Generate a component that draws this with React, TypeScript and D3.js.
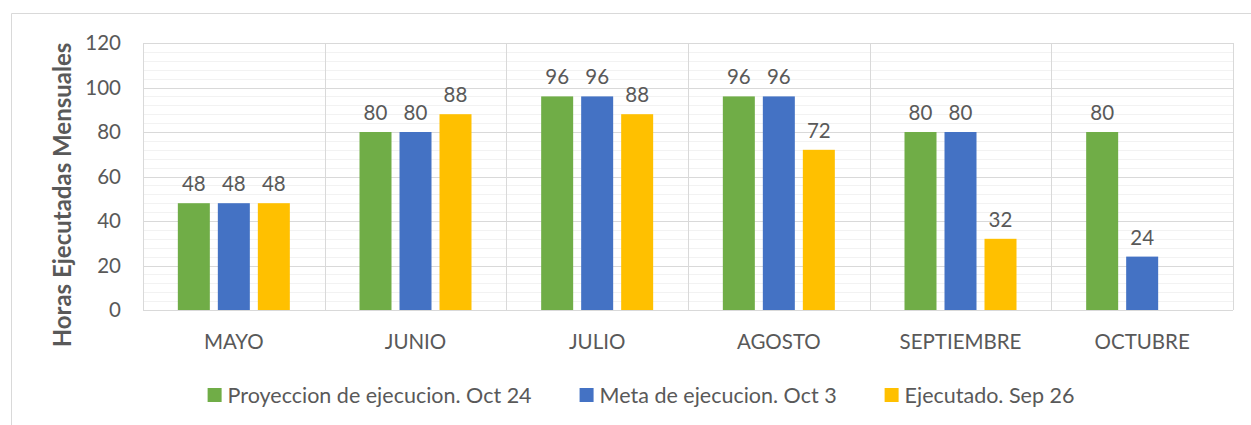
import React, { useEffect, useRef } from "react";
import * as d3 from "d3";

const months = ["MAYO", "JUNIO", "JULIO", "AGOSTO", "SEPTIEMBRE", "OCTUBRE"];
const proyeccion = [48, 80, 96, 96, 80, 80];
const meta = [48, 80, 96, 96, 80, 24];
const ejecutado: (number | null)[] = [48, 88, 88, 72, 32, null];
const seriesNames = ["Proyeccion de ejecucion. Oct 24", "Meta de ejecucion. Oct 3", "Ejecutado. Sep 26"];
const seriesColors = ["#70ad47", "#4472c4", "#ffc000"];
const yTicks = [0, 20, 40, 60, 80, 100, 120];

const FONT = "Lato, 'Open Sans', sans-serif";
const TEXT = "#595959";

export default function App() {
  const ref = useRef<SVGSVGElement>(null);

  useEffect(() => {
    const svg = d3.select(ref.current);
    svg.selectAll("*").remove();

    const left = 143, right = 1233, top = 43, bottom = 310;

    // outer chart border
    svg.append("path")
      .attr("d", `M11.5,425 L11.5,13.5 L1251,13.5`)
      .attr("fill", "none").attr("stroke", "#d9d9d9").attr("stroke-width", 1);

    const x0 = d3.scaleBand().domain(months).range([left, right]).paddingInner(0).paddingOuter(0);
    const y = d3.scaleLinear().domain([0, 120]).range([bottom, top]);

    const barW = 32, gap = 8;
    const x1 = d3.scaleLinear().domain([0, 2]).range([-(barW + gap), barW + gap]);

    const g = svg.append("g");

    // minor gridlines
    const minor = d3.range(0, 121, 4).filter(v => v % 20 !== 0);
    g.selectAll(".minor").data(minor).join("line").attr("class", "minor")
      .attr("x1", left).attr("x2", right)
      .attr("y1", d => Math.round(y(d)) + 0.5).attr("y2", d => Math.round(y(d)) + 0.5)
      .attr("stroke", "#f2f2f2").attr("stroke-width", 1);

    // major gridlines
    g.selectAll(".major").data(yTicks).join("line").attr("class", "major")
      .attr("x1", left).attr("x2", right)
      .attr("y1", d => Math.round(y(d)) + 0.5).attr("y2", d => Math.round(y(d)) + 0.5)
      .attr("stroke", "#d9d9d9").attr("stroke-width", 1);

    // vertical category separators
    const seps = months.map(m => x0(m) as number).concat([right]);
    g.selectAll(".vsep").data(seps).join("line").attr("class", "vsep")
      .attr("x1", d => Math.round(d) + 0.5).attr("x2", d => Math.round(d) + 0.5)
      .attr("y1", top).attr("y2", bottom)
      .attr("stroke", "#d9d9d9").attr("stroke-width", 1);

    // y tick labels
    g.selectAll(".ytick").data(yTicks).join("text").attr("class", "ytick")
      .attr("x", 121).attr("y", d => y(d)).attr("dy", "0.35em")
      .attr("text-anchor", "end").attr("font-family", FONT).attr("font-size", 20.5)
      .attr("fill", TEXT).text(d => d);

    // x labels
    g.selectAll(".xlabel").data(months).join("text").attr("class", "xlabel")
      .attr("x", d => (x0(d) as number) + x0.bandwidth() / 2).attr("y", 349)
      .attr("text-anchor", "middle").attr("font-family", FONT).attr("font-size", 20.5)
      .attr("fill", TEXT).text(d => d);

    // y title
    svg.append("text")
      .attr("transform", `translate(71, 195) rotate(-90)`)
      .attr("text-anchor", "middle").attr("font-family", FONT).attr("font-size", 24)
      .attr("font-weight", "bold").attr("fill", TEXT).text("Horas Ejecutadas Mensuales");

    const allSeries = [proyeccion, meta, ejecutado];
    const flat: { m: string; i: number; v: number }[] = [];
    allSeries.forEach((s, i) => s.forEach((v, j) => { if (v != null) flat.push({ m: months[j], i, v }); }));

    const cx = (d: { m: string; i: number }) => (x0(d.m) as number) + x0.bandwidth() / 2 + x1(d.i);

    g.selectAll(".bar").data(flat).join("rect").attr("class", "bar")
      .attr("x", d => cx(d) - barW / 2).attr("width", barW)
      .attr("y", d => y(d.v)).attr("height", d => y(0) - y(d.v))
      .attr("fill", d => seriesColors[d.i]);

    g.selectAll(".vlabel").data(flat).join("text").attr("class", "vlabel")
      .attr("x", d => cx(d)).attr("y", d => y(d.v) - 12)
      .attr("text-anchor", "middle").attr("font-family", FONT).attr("font-size", 20.5)
      .attr("fill", TEXT).text(d => d.v);

    // legend
    const legend = svg.append("g");
    const items = legend.selectAll(".li").data(seriesNames).join("g").attr("class", "li");
    items.append("rect").attr("width", 14).attr("height", 14).attr("y", 388)
      .attr("fill", (d, i) => seriesColors[i]);
    items.append("text").attr("x", 20).attr("y", 395).attr("dy", "0.35em")
      .attr("font-family", FONT).attr("font-size", 21.5).attr("fill", TEXT).text(d => d);

    const widths: number[] = [];
    items.select("text").each(function () { widths.push(20 + (this as SVGTextElement).getComputedTextLength()); });
    const spacing = 48;
    const total = d3.sum(widths) + spacing * (widths.length - 1);
    let pos = 641 - total / 2;
    items.attr("transform", (d, i) => {
      const t = `translate(${pos},0)`;
      pos += widths[i] + spacing;
      return t;
    });
  }, []);

  return <svg ref={ref} width={1251} height={425} style={{ position: "absolute", left: 0, top: 0 }} />;
}
